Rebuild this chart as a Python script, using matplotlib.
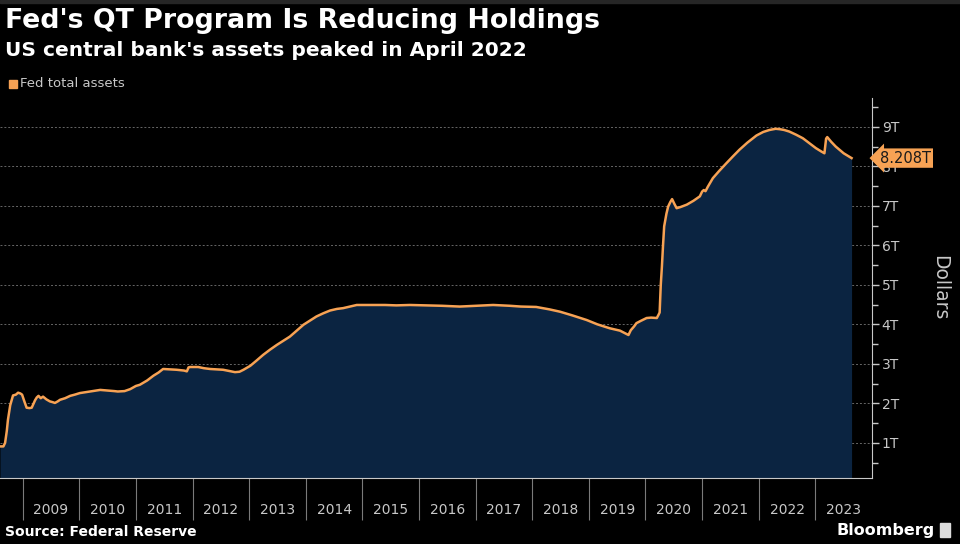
import numpy as np
import matplotlib.pyplot as plt
from matplotlib.ticker import FixedLocator, NullFormatter, FixedFormatter

# Fed total assets, trillions of dollars (decimal years)
dates = [2008.60, 2008.66, 2008.69, 2008.72, 2008.74, 2008.78, 2008.83, 2008.88, 2008.92, 2008.96,
         2008.99, 2009.03, 2009.07, 2009.12, 2009.16, 2009.22, 2009.25, 2009.28, 2009.32, 2009.36,
         2009.42, 2009.48, 2009.53, 2009.57, 2009.62, 2009.66, 2009.75, 2009.84, 2009.92, 2010.01,
         2010.10, 2010.19, 2010.28, 2010.37, 2010.46, 2010.54, 2010.62, 2010.68, 2010.80, 2010.90,
         2011.00, 2011.07, 2011.20, 2011.31, 2011.40, 2011.48, 2011.60, 2011.72, 2011.85, 2011.90,
         2011.93, 2011.96, 2012.10, 2012.20, 2012.31, 2012.42, 2012.54, 2012.65, 2012.75, 2012.83,
         2012.90, 2013.02, 2013.12, 2013.25, 2013.37, 2013.49, 2013.60, 2013.72, 2013.84, 2013.96,
         2014.08, 2014.19, 2014.31, 2014.43, 2014.55, 2014.66, 2014.78, 2014.90, 2015.13, 2015.40,
         2015.60, 2015.84, 2016.10, 2016.40, 2016.72, 2017.00, 2017.31, 2017.60, 2017.80, 2018.07,
         2018.30, 2018.49, 2018.70, 2018.96, 2019.15, 2019.37, 2019.55, 2019.66, 2019.70, 2019.74,
         2019.80, 2019.84, 2019.92, 2020.02, 2020.10, 2020.20, 2020.23, 2020.25, 2020.27, 2020.29,
         2020.31, 2020.33, 2020.37, 2020.40, 2020.44, 2020.47, 2020.51, 2020.55, 2020.62, 2020.73,
         2020.85, 2020.96, 2021.00, 2021.03, 2021.06, 2021.10, 2021.19, 2021.30, 2021.43, 2021.55,
         2021.66, 2021.80, 2021.96, 2022.08, 2022.19, 2022.30, 2022.37, 2022.45, 2022.54, 2022.66,
         2022.78, 2022.90, 2023.01, 2023.10, 2023.16, 2023.19, 2023.21, 2023.28, 2023.36, 2023.50,
         2023.64]
assets = [0.91, 0.91, 1.00, 1.30, 1.58, 1.95, 2.20, 2.22, 2.27, 2.25,
          2.22, 2.05, 1.89, 1.88, 1.89, 2.08, 2.15, 2.19, 2.13, 2.17,
          2.10, 2.05, 2.03, 2.01, 2.05, 2.09, 2.13, 2.19, 2.22, 2.26,
          2.28, 2.30, 2.32, 2.34, 2.33, 2.32, 2.31, 2.30, 2.31, 2.36,
          2.44, 2.47, 2.58, 2.70, 2.78, 2.87, 2.86, 2.85, 2.83, 2.81,
          2.91, 2.92, 2.92, 2.89, 2.87, 2.86, 2.85, 2.82, 2.79, 2.80,
          2.85, 2.95, 3.07, 3.23, 3.36, 3.48, 3.58, 3.69, 3.84, 3.99,
          4.10, 4.20, 4.28, 4.35, 4.39, 4.41, 4.45, 4.49, 4.49, 4.49,
          4.48, 4.49, 4.48, 4.47, 4.45, 4.47, 4.49, 4.47, 4.45, 4.44,
          4.38, 4.32, 4.23, 4.11, 4.00, 3.90, 3.84, 3.76, 3.73, 3.85,
          3.95, 4.03, 4.09, 4.16, 4.17, 4.16, 4.24, 4.30, 5.00, 5.46,
          6.00, 6.48, 6.80, 6.98, 7.10, 7.17, 7.05, 6.94, 6.97, 7.03,
          7.13, 7.24, 7.36, 7.40, 7.37, 7.48, 7.70, 7.88, 8.08, 8.26,
          8.42, 8.60, 8.78, 8.87, 8.92, 8.95, 8.94, 8.92, 8.88, 8.80,
          8.71, 8.58, 8.46, 8.38, 8.33, 8.70, 8.74, 8.62, 8.50, 8.33,
          8.208]

years = list(range(2009, 2024))
y_ticks = [1, 2, 3, 4, 5, 6, 7, 8, 9]
y_labels = ['1T', '2T', '3T', '4T', '5T', '6T', '7T', '8T', '9T']
last_label = '8.208T'

ORANGE = '#f7a254'
NAVY = '#0b2441'
GREY = '#c8c8c8'

fig = plt.figure(figsize=(9.6, 5.44), dpi=100, facecolor='black')
ax = fig.add_axes([0.0, 0.1213, 0.9083, 0.6986], facecolor='black')

ax.fill_between(dates, assets, 0, color=NAVY, lw=0)
ax.plot(dates, assets, color=ORANGE, lw=1.8)

ax.set_xlim(2008.6, 2024.0)
ax.set_ylim(0.11, 9.73)

# horizontal dotted grid
for v in y_ticks:
    ax.axhline(v, color='#666666', lw=0.7, ls=(0, (2, 2)), zorder=0.5)

# y axis on the right
ax.yaxis.tick_right()
ax.yaxis.set_label_position('right')
ax.set_yticks(y_ticks)
ax.set_yticklabels(y_labels)
ax.yaxis.set_minor_locator(FixedLocator([v + 0.5 for v in range(0, 10)]))
ax.tick_params(axis='y', which='major', colors=GREY, length=5, width=1, labelsize=10, pad=2)
ax.tick_params(axis='y', which='minor', colors=GREY, length=4, width=1)
ax.set_ylabel('Dollars', color=GREY, fontsize=13.5, rotation=-90, labelpad=36)

# x axis: long separators at year starts, labels centred in each year
ax.xaxis.set_major_locator(FixedLocator(years))
ax.xaxis.set_major_formatter(NullFormatter())
ax.xaxis.set_minor_locator(FixedLocator([y + 0.5 for y in years]))
ax.xaxis.set_minor_formatter(FixedFormatter([str(y) for y in years]))
ax.tick_params(axis='x', which='major', colors='#7a7a7a', length=30, width=0.8)
ax.tick_params(axis='x', which='minor', length=0, labelcolor=GREY, labelsize=10, pad=18)

for side in ['left', 'top']:
    ax.spines[side].set_visible(False)
ax.spines['right'].set_color(GREY)
ax.spines['bottom'].set_color(GREY)

# last value tag
ax.text(1.009, assets[-1], last_label, transform=ax.get_yaxis_transform(),
        color='#1a1a1a', fontsize=10.5, va='center', ha='left', zorder=10,
        bbox=dict(boxstyle='larrow,pad=0.15', fc=ORANGE, ec='none'))

# thin grey strip along the top edge
fig.patches.append(plt.Rectangle((0, 0.994), 1, 0.006, transform=fig.transFigure,
                                 color='#262626'))

# titles, legend, footer
fig.text(0.005, 0.962, "Fed's QT Program Is Reducing Holdings", color='white',
         fontsize=19.3, fontweight='bold', va='center', ha='left')
fig.text(0.005, 0.907, "US central bank's assets peaked in April 2022", color='white',
         fontsize=14.5, fontweight='bold', va='center', ha='left')
fig.patches.append(plt.Rectangle((0.0094, 0.838), 0.0085, 0.015, transform=fig.transFigure,
                                 color=ORANGE))
fig.text(0.021, 0.846, 'Fed total assets', color=GREY, fontsize=9.5, va='center', ha='left')
fig.text(0.005, 0.022, 'Source: Federal Reserve', color='white', fontsize=10,
         fontweight='bold', va='center', ha='left')
fig.text(0.974, 0.024, 'Bloomberg', color='white', fontsize=11.5,
         fontweight='bold', va='center', ha='right')
fig.patches.append(plt.Rectangle((0.979, 0.012), 0.011, 0.027, transform=fig.transFigure,
                                 color='#dddddd'))

fig.savefig('out.png', dpi=100, facecolor='black')
